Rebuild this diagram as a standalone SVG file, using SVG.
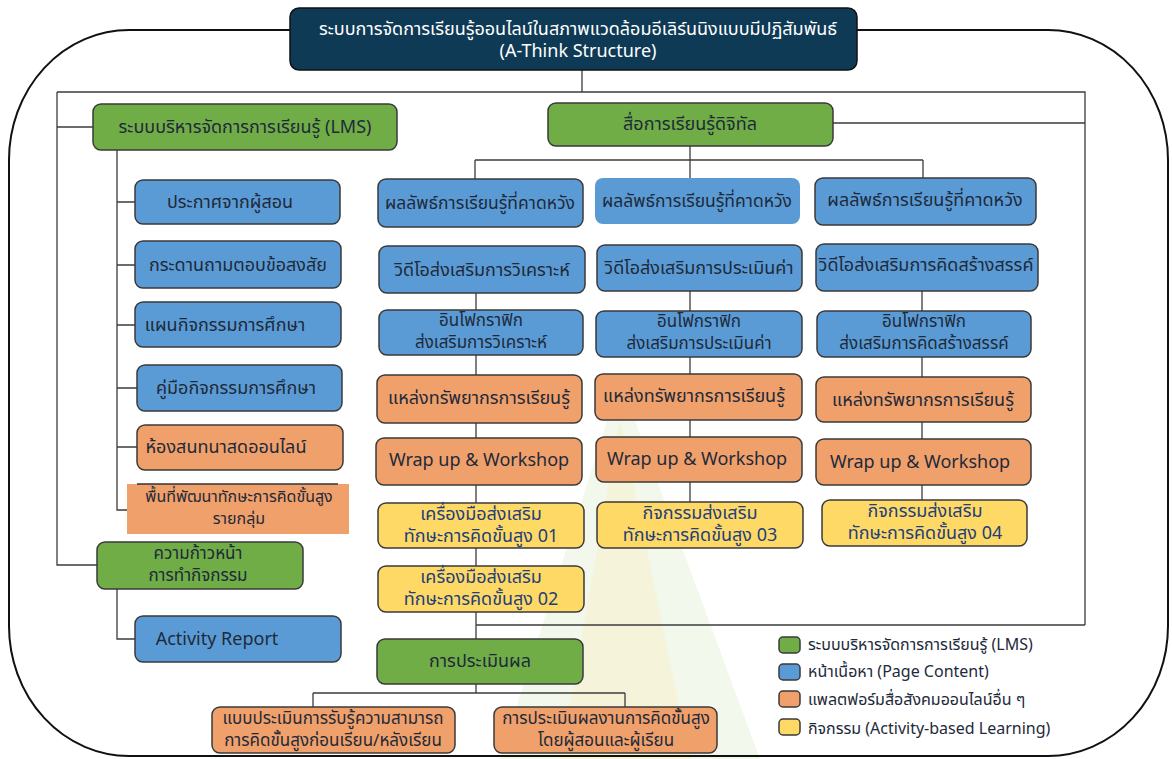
<svg xmlns="http://www.w3.org/2000/svg" width="1172" height="759" viewBox="0 0 1172 759">
<style>
text{font-family:"Noto Sans Thai","Noto Sans Thai Looped","Noto Sans","DejaVu Sans",sans-serif;font-size:18px;text-anchor:middle;dominant-baseline:central;fill:#1e2a3a}
.t2{font-size:17px}
.t3{font-size:16px}
.g{fill:#70ad47;stroke:#3a3a3a;stroke-width:1.5}
.b{fill:#5b9bd5;stroke:#3a3a3a;stroke-width:1.5}
.o{fill:#f0a06a;stroke:#3a3a3a;stroke-width:1.5}
.y{fill:#ffd966;stroke:#3a3a3a;stroke-width:1.5}
.yt{fill:#233f7a;font-size:18px}
.c{fill:none;stroke:#3c3c3c;stroke-width:1.3}
.lg{text-anchor:start;font-size:16px}
.w{fill:#ffffff}
</style>
<rect width="1172" height="759" fill="#ffffff"/>
<polygon points="620,380 500,759 760,759" fill="#e9f3df" opacity="0.6"/>
<polygon points="620,420 560,759 690,759" fill="#f7f0cf" opacity="0.6"/>
<rect x="9" y="30" width="1159" height="726" rx="120" ry="130" fill="none" stroke="#111" stroke-width="2"/>
<g id="connectors" class="c">
<path class="c" d="M582,70V92M57,92H1085V625M57,92V565H97M57,127H93M833,123H1085"/>
<path class="c" d="M117,150V510H127M117,202H135M117,265H135M117,325H135M117,388H137M117,447H137M117,589V639H135"/>
<path class="c" d="M690,146V178M475,160H923M475,160V179M923,160V178"/>
<path class="c" d="M476,293V639M476,625H1085M690,291V502M922,291V500"/>
<path class="c" d="M476,684V693M313,693H625M313,693V707M625,693V707"/>
</g>
<g id="title"><rect x="290" y="8" width="567" height="62" rx="9" fill="#0e3a55" stroke="#111" stroke-width="1.5"/>
<text class="w" x="578" y="29">ระบบการจัดการเรียนรู้ออนไลน์ในสภาพแวดล้อมอีเลิร์นนิงแบบมีปฏิสัมพันธ์</text>
<text class="w" x="578" y="51">(A-Think Structure)</text></g>
<g id="lms"><rect class="g" x="93" y="104" width="304" height="46" rx="8"/><text x="245" y="127">ระบบบริหารจัดการการเรียนรู้ (LMS)</text></g>
<g id="digital"><rect class="g" x="548" y="103" width="285" height="43" rx="8"/><text x="690" y="124">สื่อการเรียนรู้ดิจิทัล</text></g>
<g id="announce"><rect class="b" x="135" y="180" width="205" height="44" rx="8"/><text x="230" y="202">ประกาศจากผู้สอน</text></g>
<g id="qa"><rect class="b" x="135" y="241" width="206" height="47" rx="8"/><text x="238" y="265">กระดานถามตอบข้อสงสัย</text></g>
<g id="plan"><rect class="b" x="135" y="302" width="206" height="45" rx="8"/><text x="225" y="325">แผนกิจกรรมการศึกษา</text></g>
<g id="manual"><rect class="b" x="137" y="365" width="205" height="46" rx="8"/><text x="236" y="388">คู่มือกิจกรรมการศึกษา</text></g>
<g id="chat"><rect class="o" x="137" y="425" width="206" height="45" rx="8"/><text x="226" y="447">ห้องสนทนาสดออนไลน์</text></g>
<g id="groupspace"><rect x="127" y="484" width="222" height="50" fill="#f0a06a"/><path d="M137,484H338" stroke="#333" stroke-width="1.5"/><text class="t3" x="239" y="497">พื้นที่พัฒนาทักษะการคิดขั้นสูง</text><text class="t3" x="239" y="519">รายกลุ่ม</text></g>
<g id="progress"><rect class="g" x="97" y="542" width="206" height="47" rx="8"/><text class="t2" x="198" y="554">ความก้าวหน้า</text><text class="t2" x="198" y="576">การทำกิจกรรม</text></g>
<g id="report"><rect class="b" x="135" y="616" width="206" height="46" rx="8"/><text x="217" y="639">Activity Report</text></g>
<g id="c1-outcome"><rect class="b" x="378" y="179" width="205" height="48" rx="8"/><text x="480" y="203" style="font-size:17.5px">ผลลัพธ์การเรียนรู้ที่คาดหวัง</text></g>
<g id="c1-video"><rect class="b" x="379" y="246" width="206" height="47" rx="8"/><text x="482" y="270">วิดีโอส่งเสริมการวิเคราะห์</text></g>
<g id="c1-info"><rect class="b" x="379" y="310" width="204" height="45" rx="8"/><text class="t2" x="481" y="321">อินโฟกราฟิก</text><text class="t2" x="481" y="343">ส่งเสริมการวิเคราะห์</text></g>
<g id="c1-res"><rect class="o" x="377" y="375" width="205" height="48" rx="8"/><text x="479" y="398">แหล่งทรัพยากรการเรียนรู้</text></g>
<g id="c1-wrap"><rect class="o" x="376" y="438" width="206" height="47" rx="8"/><text x="479" y="460">Wrap up &amp; Workshop</text></g>
<g id="c1-tool1"><rect class="y" x="378" y="503" width="206" height="45" rx="8"/><text class="yt" x="481" y="514">เครื่องมือส่งเสริม</text><text class="yt" x="481" y="536">ทักษะการคิดขั้นสูง 01</text></g>
<g id="c1-tool2"><rect class="y" x="378" y="566" width="206" height="46" rx="8"/><text class="yt" x="481" y="577">เครื่องมือส่งเสริม</text><text class="yt" x="481" y="599">ทักษะการคิดขั้นสูง 02</text></g>
<g id="c2-outcome"><rect x="595" y="178" width="205" height="46" rx="8" fill="#5b9bd5"/><text x="697" y="201" style="font-size:17.5px">ผลลัพธ์การเรียนรู้ที่คาดหวัง</text></g>
<g id="c2-video"><rect class="b" x="597" y="245" width="205" height="46" rx="8"/><text x="699" y="268">วิดีโอส่งเสริมการประเมินค่า</text></g>
<g id="c2-info"><rect class="b" x="596" y="311" width="206" height="46" rx="8"/><text class="t2" x="699" y="322">อินโฟกราฟิก</text><text class="t2" x="699" y="344">ส่งเสริมการประเมินค่า</text></g>
<g id="c2-res"><rect class="o" x="595" y="374" width="207" height="46" rx="8"/><text x="694" y="396">แหล่งทรัพยากรการเรียนรู้</text></g>
<g id="c2-wrap"><rect class="o" x="596" y="437" width="206" height="45" rx="8"/><text x="697" y="459">Wrap up &amp; Workshop</text></g>
<g id="c2-act3"><rect class="y" x="597" y="502" width="206" height="46" rx="8"/><text class="yt" x="700" y="513">กิจกรรมส่งเสริม</text><text class="yt" x="700" y="535">ทักษะการคิดขั้นสูง 03</text></g>
<g id="c3-outcome"><rect class="b" x="815" y="178" width="221" height="47" rx="8"/><text x="925" y="200">ผลลัพธ์การเรียนรู้ที่คาดหวัง</text></g>
<g id="c3-video"><rect class="b" x="816" y="244" width="222" height="47" rx="8"/><text x="926" y="265">วิดีโอส่งเสริมการคิดสร้างสรรค์</text></g>
<g id="c3-info"><rect class="b" x="817" y="311" width="214" height="46" rx="8"/><text class="t2" x="924" y="322">อินโฟกราฟิก</text><text class="t2" x="924" y="344">ส่งเสริมการคิดสร้างสรรค์</text></g>
<g id="c3-res"><rect class="o" x="816" y="377" width="215" height="45" rx="8"/><text x="923" y="400">แหล่งทรัพยากรการเรียนรู้</text></g>
<g id="c3-wrap"><rect class="o" x="816" y="439" width="215" height="46" rx="8"/><text x="920" y="462">Wrap up &amp; Workshop</text></g>
<g id="c3-act4"><rect class="y" x="822" y="500" width="205" height="46" rx="8"/><text class="yt" x="925" y="511">กิจกรรมส่งเสริม</text><text class="yt" x="925" y="533">ทักษะการคิดขั้นสูง 04</text></g>
<g id="eval"><rect class="g" x="377" y="639" width="206" height="45" rx="8"/><text x="480" y="661">การประเมินผล</text></g>
<g id="eval1"><rect class="o" x="212" y="707" width="243" height="46" rx="8"/><text class="t2" x="333" y="719">แบบประเมินการรับรู้ความสามารถ</text><text class="t2" x="333" y="741">การคิดขั้นสูงก่อนเรียน/หลังเรียน</text></g>
<g id="eval2"><rect class="o" x="494" y="707" width="223" height="46" rx="8"/><text class="t2" x="606" y="719">การประเมินผลงานการคิดขั้นสูง</text><text class="t2" x="606" y="741">โดยผู้สอนและผู้เรียน</text></g>
<g id="legend">
<rect class="g" x="779" y="637" width="21" height="16" rx="4"/><text class="lg" x="808" y="645">ระบบบริหารจัดการการเรียนรู้ (LMS)</text>
<rect class="b" x="779" y="664" width="21" height="16" rx="4"/><text class="lg" x="808" y="672">หน้าเนื้อหา (Page Content)</text>
<rect class="o" x="779" y="691" width="21" height="16" rx="4"/><text class="lg" x="808" y="700">แพลตฟอร์มสื่อสังคมออนไลน์อื่น ๆ</text>
<rect class="y" x="779" y="719" width="21" height="16" rx="4"/><text class="lg" x="808" y="729">กิจกรรม (Activity-based Learning)</text>
</g>
</svg>
